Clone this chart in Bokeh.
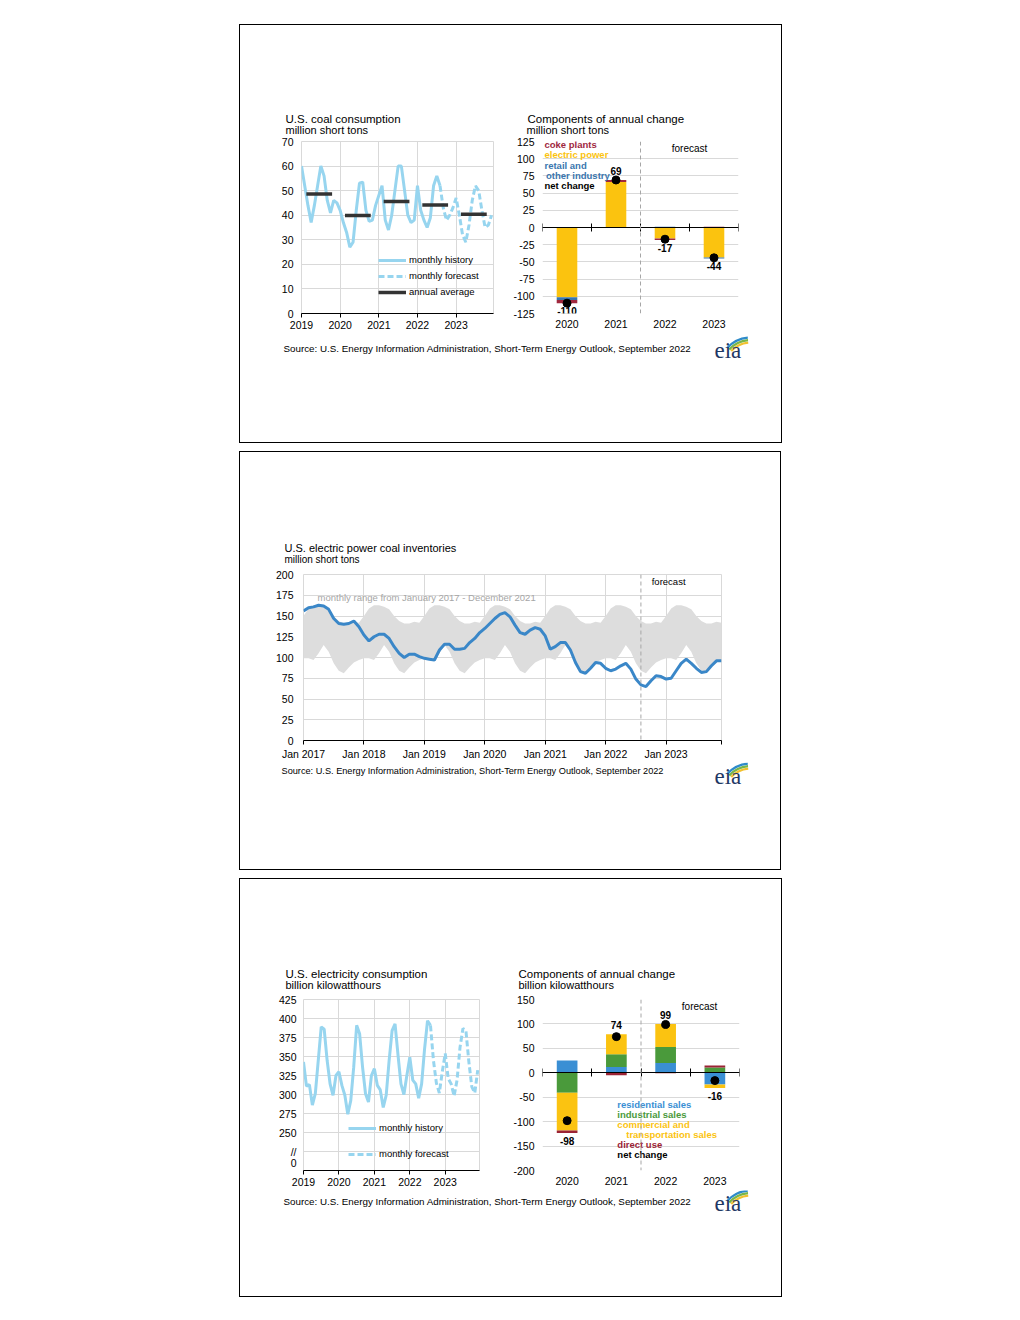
import numpy as np
import pandas as pd
from bokeh.plotting import figure
from bokeh.models import (Range1d, FixedTicker, Span, Legend, LegendItem,
                          LinearAxis, Spacer, LabelSet, ColumnDataSource)
from bokeh.layouts import column, row
from bokeh.core.properties import value
from bokeh.embed import file_html
from bokeh.resources import INLINE

FONT = "Liberation Sans"
SERIF = "Liberation Serif"
GRID = "#D9D9D9"
TXT = "#000000"
LIGHT_BLUE = "#97D5EF"
SOURCE = ("Source: U.S. Energy Information Administration, Short-Term Energy Outlook, "
          "September 2022")

# ---------------- data: U.S. coal consumption (million short tons, monthly) -------------
coal_years = [2019, 2020, 2021, 2022, 2023]
coal_consumption = [60, 52, 44, 37, 44, 52, 60, 56, 46, 41, 46, 45,
                    42, 37, 33, 27, 29, 42, 53, 53.5, 42, 37.5, 38, 44,
                    48, 52, 38, 34, 40, 50, 60, 60, 50, 40, 37, 38,
                    52, 42, 38, 35, 39, 52, 56, 52, 43, 38, 40, 43,
                    47, 40, 32, 29, 36, 46, 52, 50, 42, 35, 36, 40]
coal_history_through = "2022-08"

# components of annual change in coal consumption (million short tons)
coal_change_years = ["2020", "2021", "2022", "2023"]
coal_electric_power = [-101.5, 66.0, -16.0, -43.5]
coal_retail_other = [-4.0, 0.0, 1.0, -1.5]
coal_coke_plants = [-4.5, 3.0, -2.0, 1.0]
coal_forecast_from = "2022"

# ---------------- data: electric power coal inventories (million short tons) -------------
inv_start = "2017-01"
inv_stocks = [156, 160, 161, 163, 162, 158, 147, 141, 140, 141, 144, 137,
              127, 120, 125, 128, 128, 123, 113, 105, 100, 104, 104, 101,
              99, 98, 97, 109, 116, 116, 110, 110, 111, 118, 123, 130,
              135, 141, 147, 152, 154, 149, 139, 130, 128, 133, 136, 134,
              126, 110, 113, 118, 118, 109, 94, 83, 81, 87, 94, 93,
              87, 84, 86, 90, 93, 86, 74, 67, 65, 72, 78, 77,
              74, 75, 84, 93, 98, 93, 87, 82, 83, 90, 96, 96]
inv_range_high = [150, 159, 163, 163, 161, 158, 150, 144, 141, 141, 143, 142]
inv_range_low = [99, 99, 97, 105, 115, 107, 93, 84, 81, 88, 94, 97]
inv_history_through = "2022-08"

# ---------------- data: U.S. electricity consumption (billion kWh, monthly) --------------
elec_years = [2019, 2020, 2021, 2022, 2023]
elec_consumption = [343, 311, 313, 286, 301, 345, 389, 386, 345, 314, 299, 325,
                    330, 312, 299, 274, 292, 336, 391, 380, 336, 301, 290, 325,
                    334, 312, 306, 283, 299, 345, 384, 393, 352, 314, 300, 325,
                    349, 319, 314, 295, 314, 360, 397, 391, 345, 315, 302, 330,
                    354, 321, 314, 298, 319, 362, 387, 384, 343, 310, 302, 332]
elec_history_through = "2022-08"

# components of annual change in electricity consumption (billion kWh)
elec_change_years = ["2020", "2021", "2022", "2023"]
elec_residential = [25, 12, 20, -24]
elec_industrial = [-41, 26, 33, 11]
elec_commercial = [-77, 41, 47, -7]
elec_direct_use = [-5, -5, -1, 4]
elec_forecast_from = "2022"


# ---------------------------------- helpers ----------------------------------
def new_fig(fw, fh, left, right, top, bottom, xr, yr):
    p = figure(frame_width=fw, frame_height=fh, min_border_left=left,
               min_border_right=right, min_border_top=top, min_border_bottom=bottom,
               x_range=xr, y_range=yr, toolbar_location=None, output_backend="svg",
               title=None)
    p.outline_line_color = None
    p.background_fill_color = "#FFFFFF"
    p.border_fill_color = "#FFFFFF"
    p.grid.grid_line_color = GRID
    for ax in p.axis:
        ax.major_label_text_font = FONT
        ax.major_label_text_font_size = "10.5px"
        ax.major_label_text_color = TXT
        ax.minor_tick_line_color = None
        ax.minor_tick_in = 0
        ax.minor_tick_out = 0
    p.yaxis.axis_line_color = None
    p.yaxis.major_tick_line_color = None
    p.yaxis.major_tick_in = 0
    p.yaxis.major_tick_out = 0
    p.yaxis.major_label_standoff = 8
    p.xaxis.axis_line_color = "#000000"
    p.xaxis.major_tick_line_color = "#000000"
    p.xaxis.major_tick_in = 0
    p.xaxis.major_tick_out = 4
    p.xaxis.major_label_standoff = 3
    return p


def strip(h):
    s = figure(frame_width=540, frame_height=h, min_border=0,
               x_range=Range1d(0, 540), y_range=Range1d(0, h),
               x_axis_type=None, y_axis_type=None, toolbar_location=None,
               output_backend="svg", title=None)
    s.outline_line_color = None
    return s


def put_text(p, x, y, txt, size, color=TXT, bold=False, align="left"):
    p.text(x=[x], y=[y], text=[txt], text_font=value(FONT), text_font_size=size,
           text_color=color, text_font_style="bold" if bold else "normal",
           text_baseline="middle", text_align=align)


def draw_logo(s, x_left, y_mid):
    cx, cy = x_left + 36, y_mid - 18
    for r, c in zip([26, 28.5, 31], ["#F2C12E", "#7AB648", "#2E8BC9"]):
        s.arc(x=[cx], y=[cy], radius=r, start_angle=np.radians(95),
              end_angle=np.radians(138), line_color=c, line_width=2.2)
    s.text(x=[x_left], y=[y_mid], text=["eia"], text_font=value(SERIF),
           text_font_size="23px", text_color="#1F3864", text_baseline="middle")


def ts_legend(p, items, loc):
    lg = Legend(items=items, location=loc, orientation="vertical",
                background_fill_alpha=0, border_line_alpha=0, padding=0, margin=0,
                spacing=5, glyph_width=28, glyph_height=10, label_height=10,
                label_standoff=3, label_text_font=FONT, label_text_font_size="9.5px",
                label_text_color=TXT)
    p.add_layout(lg)


def monthly_chart(p, years, vals, history_through):
    n = len(vals)
    x = np.arange(n)
    months = pd.period_range(f"{years[0]}-01", periods=n, freq="M").strftime("%Y-%m")
    h = list(months).index(history_through)
    v = np.asarray(vals, float)
    r_hist = p.line(x[:h + 1], v[:h + 1], line_color=LIGHT_BLUE, line_width=3)
    r_fc = p.line(x[h:], v[h:], line_color=LIGHT_BLUE, line_width=3, line_dash="6 3")
    yt = [12 * i for i in range(len(years))]
    p.xaxis.ticker = FixedTicker(ticks=yt)
    p.xaxis.major_label_overrides = {t: str(y) for t, y in zip(yt, years)}
    p.xgrid.ticker = FixedTicker(ticks=yt)
    p.outline_line_color = GRID
    return r_hist, r_fc, v


def change_chart(p, cats, series, colors, forecast_from, ticks):
    n = len(cats)
    xc = np.arange(n)
    pos = np.zeros(n)
    neg = np.zeros(n)
    net = np.zeros(n)
    for vals, col in zip(series, colors):
        v = np.asarray(vals, float)
        bottom = np.where(v >= 0, pos, neg)
        top = bottom + v
        p.vbar(x=xc, width=0.42, bottom=bottom, top=top, fill_color=col, line_color=None)
        pos = np.where(v >= 0, top, pos)
        neg = np.where(v < 0, top, neg)
        net = net + v
    p.scatter(xc, net, size=8, fill_color="#000000", line_color="#000000")
    up = net >= 0
    lbl = np.array([f"{v:.0f}" for v in net])
    src_up = ColumnDataSource(dict(x=xc[up], y=pos[up], t=lbl[up]))
    src_dn = ColumnDataSource(dict(x=xc[~up], y=neg[~up], t=lbl[~up]))
    common = dict(x="x", y="y", text="t", text_font=value(FONT), text_font_size="10px",
                  text_font_style="bold", text_color=TXT, text_align="center")
    p.add_layout(LabelSet(source=src_up, text_baseline="bottom", y_offset=5, **common))
    p.add_layout(LabelSet(source=src_dn, text_baseline="top", y_offset=-4, **common))
    ticks_c = [int(i) for i in xc]
    p.xaxis.ticker = FixedTicker(ticks=ticks_c)
    p.xaxis.major_label_overrides = {t: c for t, c in zip(ticks_c, cats)}
    p.xaxis.axis_line_color = None
    p.xaxis.major_tick_line_color = None
    p.xaxis.major_tick_out = 0
    p.xaxis.major_label_standoff = 6
    p.yaxis.ticker = FixedTicker(ticks=ticks)
    p.yaxis.major_label_overrides = {t: str(t) for t in ticks}
    p.ygrid.ticker = FixedTicker(ticks=ticks)
    p.xgrid.ticker = FixedTicker(ticks=[n - 0.5])
    zero = LinearAxis(fixed_location=0,
                      ticker=FixedTicker(ticks=[i - 0.5 for i in range(n + 1)]),
                      major_tick_in=4, major_tick_out=4, axis_line_color="#000000",
                      major_tick_line_color="#000000", minor_tick_line_color=None,
                      major_label_text_font_size="0px", major_label_text_alpha=0)
    p.add_layout(zero, "below")
    p.add_layout(Span(location=cats.index(forecast_from) - 0.5, dimension="height",
                      line_color="#A6A6A6", line_dash="4 3", line_width=1))


# =============================== panel 1 ===============================
head1 = strip(110)
put_text(head1, 45, 17, "U.S. coal consumption", "11.5px")
put_text(head1, 45, 6, "million short tons", "11px")
put_text(head1, 287, 17, "Components of annual change", "11.5px")
put_text(head1, 286, 6, "million short tons", "11px")

p1 = new_fig(192, 172, 61, 17, 6, 20, Range1d(0, len(coal_consumption) - 0.4),
             Range1d(0, 70))
r_hist1, r_fc1, v1 = monthly_chart(p1, coal_years, coal_consumption,
                                   coal_history_through)
p1.yaxis.ticker = FixedTicker(ticks=list(range(0, 71, 10)))
p1.ygrid.ticker = FixedTicker(ticks=list(range(0, 71, 10)))
avg = v1.reshape(len(coal_years), 12).mean(axis=1)
centers = np.arange(len(coal_years)) * 12 + 5.5
r_avg = p1.segment(centers - 4, avg, centers + 4, avg, line_color="#333333",
                   line_width=3.5)
ts_legend(p1, [LegendItem(label="monthly history", renderers=[r_hist1]),
               LegendItem(label="monthly forecast", renderers=[r_fc1]),
               LegendItem(label="annual average", renderers=[r_avg])], (77, 16))

p2 = new_fig(196, 172, 31, 43, 6, 20, Range1d(-0.5, len(coal_change_years) - 0.5),
             Range1d(-125, 125))
COKE, ELEC, RETAIL = "#A0283E", "#FBC30F", "#3A76AE"
change_chart(p2, coal_change_years,
             [coal_electric_power, coal_retail_other, coal_coke_plants],
             [ELEC, RETAIL, COKE], coal_forecast_from, list(range(-125, 126, 25)))
p2.text(x=[-0.46, -0.46, -0.46, -0.43, -0.46], y=[120, 105.5, 89.5, 75, 60.5],
        text=["coke plants", "electric power", "retail and", "other industry",
              "net change"],
        text_color=[COKE, ELEC, RETAIL, RETAIL, TXT], text_font=value(FONT),
        text_font_size="9.5px", text_font_style="bold", text_baseline="middle")
put_text(p2, 2.5, 115.5, "forecast", "10px", align="center")

src1 = strip(109)
put_text(src1, 43, 94, SOURCE, "9.8px")
draw_logo(src1, 474, 92)

panel1 = column(head1, row(p1, p2), src1, styles={"border": "1px solid #000000"})

# =============================== panel 2 ===============================
head2 = strip(116)
put_text(head2, 44, 21, "U.S. electric power coal inventories", "11px")
put_text(head2, 44, 9, "million short tons", "10px")

n3 = len(inv_stocks)
p3 = new_fig(418, 166, 63, 59, 6, 22, Range1d(0, n3 - 1), Range1d(0, 200))
x3 = np.arange(n3)
months3 = pd.period_range(inv_start, periods=n3, freq="M")
moy = np.array([m.month - 1 for m in months3])
p3.varea(x=x3, y1=np.asarray(inv_range_low)[moy], y2=np.asarray(inv_range_high)[moy],
         fill_color="#DDDDDD")
p3.line(x3, inv_stocks, line_color="#3A87C8", line_width=3)
jan_idx = [int(i) for i in x3 if months3[i].month == 1]
p3.xaxis.ticker = FixedTicker(ticks=jan_idx + [n3 - 1])
ov = {i: f"Jan {months3[i].year}" for i in jan_idx}
ov[n3 - 1] = ""
p3.xaxis.major_label_overrides = ov
p3.xgrid.ticker = FixedTicker(ticks=jan_idx)
p3.yaxis.ticker = FixedTicker(ticks=list(range(0, 201, 25)))
p3.ygrid.ticker = FixedTicker(ticks=list(range(0, 201, 25)))
p3.yaxis.major_label_standoff = 10
p3.outline_line_color = GRID
h3 = list(months3.strftime("%Y-%m")).index(inv_history_through)
p3.add_layout(Span(location=h3, dimension="height", line_color="#A6A6A6",
                   line_dash="4 3", line_width=1))
put_text(p3, 2.8, 172, "monthly range from January 2017 - December 2021", "9.5px",
         color="#A6A6A6")
put_text(p3, 72.5, 191.5, "forecast", "9.5px", align="center")

src2 = strip(107)
put_text(src2, 41, 99, SOURCE, "9.2px")
draw_logo(src2, 474, 93)

panel2 = column(head2, row(p3), src2, styles={"border": "1px solid #000000"})

# =============================== panel 3 ===============================
head3 = strip(114)
put_text(head3, 45, 20, "U.S. electricity consumption", "11.5px")
put_text(head3, 45, 9, "billion kilowatthours", "11px")
put_text(head3, 278, 20, "Components of annual change", "11.5px")
put_text(head3, 278, 9, "billion kilowatthours", "11px")

p4 = new_fig(176, 171, 63, 31, 6, 20, Range1d(0, len(elec_consumption) - 0.4),
             Range1d(200, 425))
r_hist4, r_fc4, _ = monthly_chart(p4, elec_years, elec_consumption,
                                  elec_history_through)
yt4 = [210] + list(range(225, 426, 25))
p4.yaxis.ticker = FixedTicker(ticks=yt4)
p4.yaxis.major_label_overrides = {210: "0", 225: "//"}
p4.ygrid.ticker = FixedTicker(ticks=list(range(225, 426, 25)))
p4.yaxis.major_label_standoff = 7
ts_legend(p4, [LegendItem(label="monthly history", renderers=[r_hist4]),
               LegendItem(label="monthly forecast", renderers=[r_fc4])], (45, 11))
p4.legend.spacing = 15

p5 = new_fig(197, 171, 31, 42, 6, 20, Range1d(-0.5, len(elec_change_years) - 0.5),
             Range1d(-200, 150))
RES, IND, COM, DIR = "#3A8FD4", "#4A9A3B", "#FBC311", "#9B2335"
change_chart(p5, elec_change_years,
             [elec_residential, elec_industrial, elec_commercial, elec_direct_use],
             [RES, IND, COM, DIR], elec_forecast_from, list(range(-200, 151, 50)))
p5.text(x=[1.02, 1.02, 1.02, 1.2, 1.02, 1.02],
        y=[-64, -84.5, -105, -125.5, -146, -166.5],
        text=["residential sales", "industrial sales", "commercial and",
              "transportation sales", "direct use", "net change"],
        text_color=[RES, IND, COM, COM, DIR, TXT], text_font=value(FONT),
        text_font_size="9.5px", text_font_style="bold", text_baseline="middle")
put_text(p5, 2.69, 136.5, "forecast", "10px", align="center")

src3 = strip(106)
put_text(src3, 43, 95, SOURCE, "9.8px")
draw_logo(src3, 474, 93)

panel3 = column(head3, row(p4, p5), src3, styles={"border": "1px solid #000000"})

page = column(Spacer(height=24),
              row(Spacer(width=239), panel1),
              Spacer(height=8),
              row(Spacer(width=239), panel2),
              Spacer(height=8),
              row(Spacer(width=239), panel3))

open("out.html", "w").write(file_html(page, INLINE))
